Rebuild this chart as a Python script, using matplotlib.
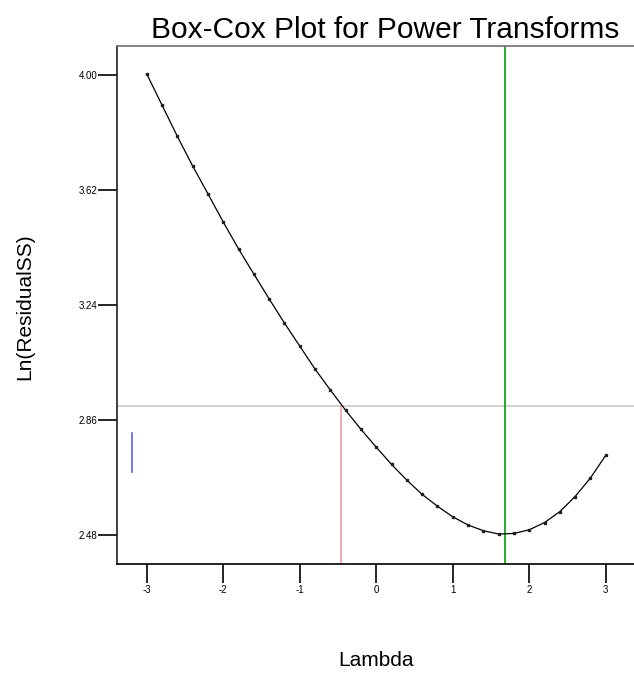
# imports
import numpy as np
import matplotlib.pyplot as plt

# lambda grid and ln(residual SS)
lambdas = [-3.0, -2.8, -2.6, -2.4, -2.2, -2.0, -1.8, -1.6, -1.4, -1.2, -1.0,
           -0.8, -0.6, -0.4, -0.2, 0.0, 0.2, 0.4, 0.6, 0.8, 1.0,
           1.2, 1.4, 1.6, 1.8, 2.0, 2.2, 2.4, 2.6, 2.8, 3.0]
ln_rss = [4.003, 3.900, 3.797, 3.699, 3.607, 3.514, 3.425, 3.342, 3.260, 3.180, 3.104,
          3.028, 2.959, 2.892, 2.829, 2.770, 2.713, 2.661, 2.614, 2.575, 2.540,
          2.513, 2.494, 2.483, 2.485, 2.497, 2.521, 2.557, 2.607, 2.668, 2.743]

# reference lines
ci_level = 2.907      # horizontal confidence line
best_lambda = 1.68    # green line
low_ci = -0.46        # red line
current = -3.2        # blue marker
current_range = [2.687, 2.816]

xticks = [-3, -2, -1, 0, 1, 2, 3]
yticks = [2.48, 2.86, 3.24, 3.62, 4.00]
ytick_labels = ["2.48", "2.86", "3.24", "3.62", "4.00"]

plt.rcParams['font.family'] = ['Liberation Sans', 'DejaVu Sans']

fig = plt.figure(figsize=(6.34, 6.75), dpi=100)
ax = fig.add_axes([117 / 634, 111 / 675, 517 / 634, 518 / 675])

# curve and points
ax.plot(lambdas, ln_rss, color="black", linewidth=0.9, zorder=3)
ax.plot(lambdas, ln_rss, "s", color="#202020", markersize=1.6, zorder=4)

ax.axhline(ci_level, color="#c8c8c8", linewidth=1.2, zorder=1)
ax.axvline(best_lambda, color="#00a000", linewidth=1.2, zorder=2)
ax.plot([low_ci, low_ci], [2.384, ci_level], color="#f4a0a0", linewidth=1.2, zorder=2)
ax.plot([current, current], current_range, color="#6060ff", linewidth=1.2, zorder=2)

ax.set_xlim(-3.39, 3.37)
ax.set_ylim(2.384, 4.096)

ax.set_xticks(xticks)
ax.set_xticklabels([str(t) for t in xticks])
ax.set_yticks(yticks)
ax.set_yticklabels(ytick_labels)
ax.tick_params(axis="both", direction="out", length=14, width=1.2, labelsize=7)
ax.tick_params(axis="x", pad=1)
ax.tick_params(axis="y", pad=0)

# frame
ax.spines["right"].set_visible(False)
ax.spines["top"].set_color("#707070")
ax.spines["left"].set_color("#202020")
ax.spines["bottom"].set_color("black")
for s in ["top", "left", "bottom"]:
    ax.spines[s].set_linewidth(1.2)

fig.text(385 / 634, 1 - 30 / 675, "Box-Cox Plot for Power Transforms",
         ha="center", va="center", fontsize=21.5)
fig.text(25 / 634, 1 - 307 / 675, "Ln(ResidualSS)", rotation=90,
         ha="center", va="center", fontsize=15)
fig.text(376 / 634, 1 - 660 / 675, "Lambda", ha="center", va="center",
         fontsize=15)

fig.savefig("out.png", dpi=100)
